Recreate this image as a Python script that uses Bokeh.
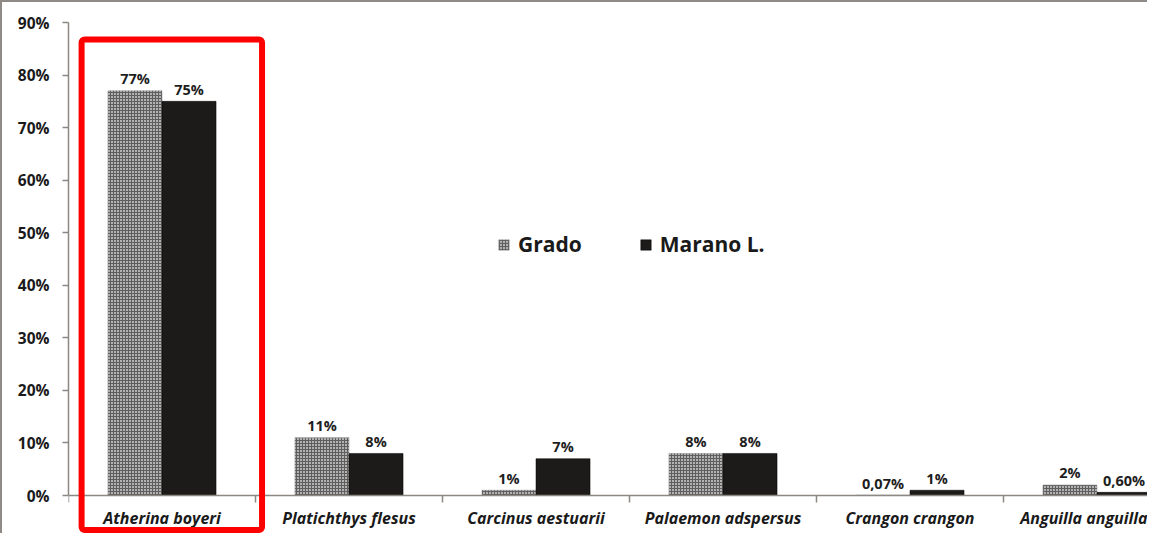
from bokeh.plotting import figure
from bokeh.models import (Range1d, FixedTicker, BoxAnnotation, Legend, LegendItem,
                          ColumnDataSource, InlineStyleSheet)
from bokeh.core.properties import value
from bokeh.embed import file_html
from bokeh.resources import INLINE

# ---- data ----
categories = ["Atherina boyeri", "Platichthys flesus", "Carcinus aestuarii",
              "Palaemon adspersus", "Crangon crangon", "Anguilla anguilla"]
grado = [77, 11, 1, 8, 0.07, 2]
marano = [75, 8, 7, 8, 1, 0.6]
grado_labels = ["77%", "11%", "1%", "8%", "0,07%", "2%"]
marano_labels = ["75%", "8%", "7%", "8%", "1%", "0,60%"]
y_ticks = [0, 10, 20, 30, 40, 50, 60, 70, 80, 90]
y_tick_labels = ["0%", "10%", "20%", "30%", "40%", "50%", "60%", "70%", "80%", "90%"]

FONT = "Open Sans"
AXIS = "#8c8884"

W, H = 1147, 533
left_b, top_b = 68, 22
axis_y_px = 495                      # pixel row of the 0% line
frame_w = W - left_b
cat_px = 187.0
px_per_pct = (axis_y_px - top_b) / 90.0
y_start = -(H - axis_y_px) / px_per_pct

centers = [i + 0.5 for i in range(len(categories))]
bw = 0.289
gx = [c - bw / 2 for c in centers]
mx = [c + bw / 2 for c in centers]

p = figure(width=W, height=H, output_backend="svg", toolbar_location=None,
           x_range=Range1d(0, frame_w / cat_px), y_range=Range1d(y_start, 90),
           min_border_left=left_b, min_border_top=top_b, min_border_bottom=0,
           min_border_right=0)
p.outline_line_color = None
p.grid.visible = False
p.background_fill_color = "white"
p.border_fill_color = "white"
p.stylesheets = [InlineStyleSheet(css=(
    ":host::before{content:'';position:absolute;left:0;top:0;width:100%;height:2px;"
    "background:#8f8a85;pointer-events:none;z-index:100;}"
    ":host::after{content:'';position:absolute;left:0;top:0;width:2px;height:100%;"
    "background:#8f8a85;pointer-events:none;z-index:100;}"))]

src_g = ColumnDataSource(dict(x=gx, top=grado, lab=grado_labels))
src_m = ColumnDataSource(dict(x=mx, top=marano, lab=marano_labels))

rg = p.vbar(x="x", top="top", bottom=0, width=bw, source=src_g,
            fill_color="#b2b2b2", line_color="#8a8a8a", line_width=0.5,
            hatch_pattern="cross", hatch_scale=3, hatch_color="#5e5e5e", hatch_weight=1)
rm = p.vbar(x="x", top="top", bottom=0, width=bw, source=src_m,
            fill_color="#1d1b19", line_color="#000000", line_width=0.5)

for src in (src_g, src_m):
    p.text(x="x", y="top", text="lab", source=src, text_align="center",
           text_baseline="alphabetic", y_offset=-12,
           text_font=value(FONT), text_font_style="bold",
           text_font_size="14.5px", text_color="#1e1e1e")

# y axis
ya = p.yaxis[0]
ya.bounds = (0, 90)
ya.ticker = FixedTicker(ticks=y_ticks, minor_ticks=[])
ya.major_label_overrides = {t: l for t, l in zip(y_ticks, y_tick_labels)}
ya.major_label_text_font = FONT
ya.major_label_text_font_style = "bold"
ya.major_label_text_font_size = "15.5px"
ya.major_label_text_color = "#1a1a1a"
ya.major_label_standoff = 13
ya.axis_line_color = AXIS
ya.axis_line_width = 1.5
ya.major_tick_line_color = AXIS
ya.major_tick_line_width = 1.5
ya.major_tick_out = 6
ya.major_tick_in = 0
ya.minor_tick_line_color = None

# x axis, drawn at the 0% line
xa = p.xaxis[0]
xa.fixed_location = 0
xa.ticker = FixedTicker(ticks=centers, minor_ticks=list(range(len(categories) + 1)))
xa.major_label_overrides = {c: n for c, n in zip(centers, categories)}
xa.major_label_text_font = FONT
xa.major_label_text_font_style = "bold italic"
xa.major_label_text_font_size = "16px"
xa.major_label_text_color = "#1a1a1a"
xa.major_label_standoff = 4
xa.major_tick_line_color = None
xa.major_tick_out = 0
xa.major_tick_in = 0
xa.minor_tick_line_color = AXIS
xa.minor_tick_line_width = 1.5
xa.minor_tick_out = 7
xa.minor_tick_in = 0
xa.axis_line_color = AXIS
xa.axis_line_width = 1.5

# highlight box
box = BoxAnnotation(left=0.07, right=1.035, top=86.77, bottom=-6.56,
                    fill_alpha=0, line_color="#ff0000", line_alpha=1.0, line_width=6,
                    border_radius=3, level="overlay")
p.add_layout(box)

legend = Legend(items=[LegendItem(label="Grado", renderers=[rg]),
                       LegendItem(label="Marano L.", renderers=[rm])],
                location=(429, 275), orientation="horizontal",
                border_line_color=None, background_fill_alpha=0,
                label_text_font=FONT, label_text_font_style="bold",
                label_text_font_size="21px", label_text_color="#1a1a1a",
                glyph_width=13, glyph_height=13, label_standoff=8,
                spacing=57, padding=0, margin=0)
p.add_layout(legend)

open("out.html", "w").write(file_html(p, INLINE))
